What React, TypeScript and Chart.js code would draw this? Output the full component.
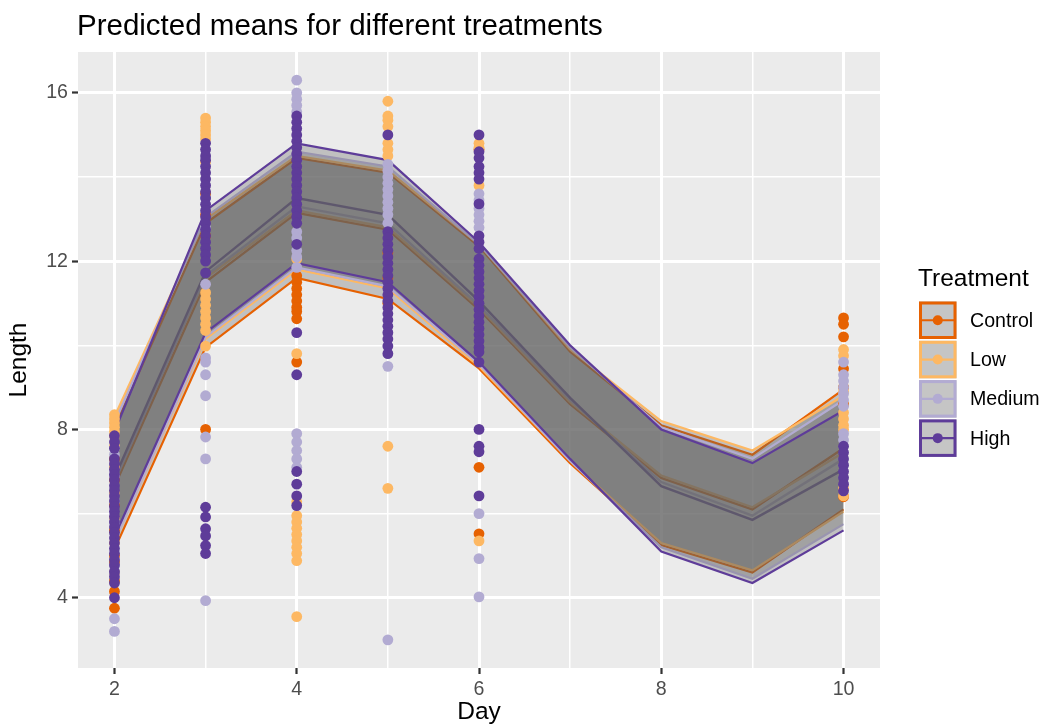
import React, { useEffect, useRef } from "react";
import { Chart, registerables } from "chart.js";

Chart.register(...registerables);

// ---------- data ----------
const days = [2, 3, 4, 5, 6, 7, 8, 9, 10];
const treatments = ["Control", "Low", "Medium", "High"];
const treatmentColors = ["#E66101", "#FDB863", "#B2ABD2", "#5E3C99"];

const controlUpper = [8.05, 12.9, 14.45, 14.1, 12.35, 9.85, 8.1, 7.4, 8.95];
const controlMean = [6.65, 11.5, 13.15, 12.75, 10.85, 8.6, 6.85, 6.1, 7.55];
const controlLower = [5.15, 9.95, 11.6, 11.1, 9.45, 7.2, 5.25, 4.6, 6.1];

const lowUpper = [8.3, 13.0, 14.5, 14.15, 12.4, 9.9, 8.2, 7.5, 8.8];
const lowMean = [6.85, 11.6, 13.2, 12.8, 10.9, 8.65, 6.9, 6.15, 7.45];
const lowLower = [5.35, 10.15, 11.8, 11.35, 9.5, 7.25, 5.3, 4.65, 6.05];

const mediumUpper = [8.15, 13.05, 14.6, 14.25, 12.4, 9.95, 8.05, 7.3, 8.7];
const mediumMean = [6.75, 11.65, 13.3, 12.9, 10.95, 8.7, 6.75, 5.95, 7.3];
const mediumLower = [5.35, 10.2, 11.85, 11.4, 9.55, 7.25, 5.2, 4.45, 5.75];

const highUpper = [7.95, 13.2, 14.8, 14.4, 12.45, 10.0, 8.0, 7.2, 8.45];
const highMean = [6.85, 11.75, 13.5, 13.1, 11.05, 8.75, 6.65, 5.85, 7.05];
const highLower = [5.45, 10.3, 11.95, 11.5, 9.6, 7.3, 5.1, 4.35, 5.6];

// observed lengths, by observation day
const obsDays = [2, 3, 4, 5, 6, 10];
const controlObs = [
  [5.0, 4.85, 4.6, 4.4, 4.15, 3.75, 5.6, 6.2, 6.8, 7.3],
  [8.0, 12.6, 13.1, 13.6],
  [11.65, 11.5, 11.35, 11.2, 11.05, 10.9, 10.8, 10.63, 9.6],
  [11.0, 11.6, 12.2],
  [14.65, 7.1, 5.52],
  [10.65, 10.5, 10.2, 9.44, 9.0, 8.6, 6.4],
];
const lowObs = [
  [8.35, 8.25, 8.15, 8.05, 7.95, 7.85, 7.6, 7.1, 6.5, 5.9, 5.3],
  [15.4, 15.3, 15.2, 15.1, 15.0, 14.9, 14.35, 11.25, 11.1, 10.95, 10.8, 10.65, 10.5, 10.35, 9.98],
  [12.05, 9.8, 6.28, 5.95, 5.8, 5.65, 5.5, 5.35, 5.2, 5.05, 4.88, 3.55],
  [15.8, 15.45, 15.35, 15.2, 14.8, 14.65, 14.5, 7.6, 6.6],
  [14.8, 14.7, 13.8, 5.35],
  [9.9, 9.75, 8.9, 8.4, 8.25, 8.1, 8.0, 6.6, 6.42],
];
const mediumObs = [
  [7.55, 7.4, 6.9, 6.3, 5.8, 4.75, 4.6, 3.5, 3.2],
  [13.5, 12.8, 11.45, 9.7, 9.6, 9.3, 8.8, 7.82, 7.3, 3.93],
  [16.3, 16.0, 15.85, 15.7, 15.55, 12.7, 12.55, 12.25, 12.1, 11.85, 7.9, 7.7, 7.5, 7.3, 7.1],
  [14.3, 14.15, 14.0, 13.85, 13.7, 13.55, 13.4, 13.25, 13.1, 12.9, 9.5, 3.0],
  [13.6, 13.45, 13.25, 13.1, 12.95, 12.8, 6.0, 4.93, 4.02],
  [9.6, 9.3, 9.15, 9.0, 8.85, 8.7, 8.55, 7.9, 7.75],
];
const highObs = [
  [7.85, 7.7, 7.55, 7.3, 7.18, 7.05, 6.93, 6.8, 6.66, 6.55, 6.42, 6.3, 6.17, 6.05, 5.93, 5.8, 5.68, 5.55, 5.42, 5.3, 5.17, 5.05, 4.9, 4.78, 4.62, 4.5, 4.35, 4.0],
  [14.8, 14.65, 14.5, 14.4, 14.25, 14.1, 13.95, 13.8, 13.65, 13.5, 13.35, 13.2, 13.05, 12.9, 12.75, 12.6, 12.45, 12.3, 12.15, 12.0, 11.72, 6.15, 5.92, 5.64, 5.47, 5.24, 5.05],
  [15.45, 15.3, 15.15, 15.0, 14.85, 14.7, 14.55, 14.4, 14.25, 14.1, 13.95, 13.8, 13.65, 13.5, 13.35, 13.2, 13.05, 12.9, 12.4, 10.3, 9.3, 7.0, 6.7, 6.42, 6.19],
  [15.0, 12.7, 12.55, 12.4, 12.25, 12.1, 11.95, 11.8, 11.65, 11.5, 11.35, 11.2, 11.05, 10.9, 10.75, 10.6, 10.45, 10.3, 10.15, 9.98, 9.8],
  [15.0, 14.6, 14.45, 14.25, 14.1, 13.95, 13.36, 12.6, 12.45, 12.3, 12.05, 11.9, 11.75, 11.6, 11.45, 11.3, 11.15, 11.0, 10.85, 10.7, 10.55, 10.4, 10.25, 10.1, 9.95, 9.84, 9.6, 8.0, 7.6, 7.47, 6.42],
  [7.6, 7.45, 7.3, 7.15, 7.0, 6.85, 6.7, 6.54],
];

const xTicks = [2, 3, 4, 5, 6, 7, 8, 9, 10];
const xMajor = [2, 4, 6, 8, 10];
const yTicks = [4, 6, 8, 10, 12, 14, 16];
const yMajor = [4, 8, 12, 16];

const titleText = "Predicted means for different treatments";
const xTitle = "Day";
const yTitle = "Length";
const legendTitle = "Treatment";

// ---------- helpers ----------
const FONT = "'Liberation Sans', Arial, sans-serif";
const uppers = [controlUpper, lowUpper, mediumUpper, highUpper];
const means = [controlMean, lowMean, mediumMean, highMean];
const lowers = [controlLower, lowLower, mediumLower, highLower];
const observations = [controlObs, lowObs, mediumObs, highObs];
const RIBBON_FILL = "rgba(96,96,96,0.31)";

const toXY = (vals: number[]) => days.map((d, i) => ({ x: d, y: vals[i] }));

function buildDatasets() {
  const ds: any[] = [];
  treatments.forEach((t, k) => {
    const pts: { x: number; y: number }[] = [];
    obsDays.forEach((d, i) => observations[k][i].forEach((v) => pts.push({ x: d, y: v })));
    ds.push({
      type: "scatter",
      label: t + " obs",
      data: pts,
      backgroundColor: treatmentColors[k],
      borderWidth: 0,
      pointRadius: 5.4,
      pointBorderWidth: 0,
      order: 3 - k,
    });
  });
  treatments.forEach((t, k) => {
    ds.push({
      type: "line",
      label: t + " upper",
      data: toXY(uppers[k]),
      borderColor: treatmentColors[k],
      borderWidth: 2.2,
      pointRadius: 0,
      tension: 0,
      fill: false,
      order: 10 + 2 * (3 - k),
    });
    ds.push({
      type: "line",
      label: t + " lower",
      data: toXY(lowers[k]),
      borderColor: treatmentColors[k],
      borderWidth: 2.2,
      pointRadius: 0,
      tension: 0,
      fill: "-1",
      backgroundColor: RIBBON_FILL,
      order: 11 + 2 * (3 - k),
    });
  });
  treatments.forEach((t, k) => {
    ds.push({
      type: "line",
      label: t + " mean",
      data: toXY(means[k]),
      borderColor: treatmentColors[k],
      borderWidth: 2.4,
      pointRadius: 0,
      tension: 0,
      fill: false,
      order: 30 + (3 - k),
    });
  });
  return ds;
}

const ggPlugin = {
  id: "ggDecor",
  beforeDraw(chart: any) {
    const { ctx, chartArea } = chart;
    ctx.save();
    ctx.fillStyle = "#FFFFFF";
    ctx.fillRect(0, 0, chart.width, chart.height);
    ctx.fillStyle = "#EBEBEB";
    ctx.fillRect(chartArea.left, chartArea.top, chartArea.right - chartArea.left, chartArea.bottom - chartArea.top);
    ctx.restore();
  },
  afterDraw(chart: any) {
    const { ctx } = chart;
    ctx.save();
    ctx.fillStyle = "#000000";
    ctx.font = `29.5px ${FONT}`;
    ctx.textAlign = "left";
    ctx.textBaseline = "alphabetic";
    ctx.fillText(titleText, 77, 35);
    ctx.font = `24.5px ${FONT}`;
    ctx.fillText(legendTitle, 918, 286);
    const x0 = 919;
    const size = 37.5;
    treatments.forEach((t, k) => {
      const y0 = 301.5 + k * 39.3;
      ctx.fillStyle = "#F2F2F2";
      ctx.fillRect(x0, y0, size, size);
      ctx.fillStyle = RIBBON_FILL;
      ctx.fillRect(x0, y0, size, size);
      ctx.strokeStyle = treatmentColors[k];
      ctx.lineWidth = 3;
      ctx.strokeRect(x0 + 1.5, y0 + 1.5, size - 3, size - 3);
      const cy = y0 + size / 2;
      ctx.lineWidth = 2.2;
      ctx.beginPath();
      ctx.moveTo(x0 + 2, cy);
      ctx.lineTo(x0 + size - 2, cy);
      ctx.stroke();
      ctx.fillStyle = treatmentColors[k];
      ctx.beginPath();
      ctx.arc(x0 + size / 2, cy, 5, 0, Math.PI * 2);
      ctx.fill();
      ctx.fillStyle = "#000000";
      ctx.font = `19.6px ${FONT}`;
      ctx.textBaseline = "middle";
      ctx.fillText(t, 970, cy + 1);
      ctx.textBaseline = "alphabetic";
    });
    ctx.restore();
  },
};

function axisCommon(ticksArr: number[], major: number[]) {
  return {
    type: "linear" as const,
    afterBuildTicks: (s: any) => {
      s.ticks = ticksArr.map((v) => ({ value: v }));
    },
    ticks: {
      autoSkip: false,
      maxRotation: 0,
      minRotation: 0,
      padding: 4,
      color: "#4D4D4D",
      font: { family: FONT, size: 19.6 },
      callback: (v: any) => (major.includes(Number(v)) ? String(v) : ""),
    },
    grid: {
      color: "#FFFFFF",
      lineWidth: (c: any) => (c.tick && major.includes(c.tick.value) ? 3 : 1.5),
      drawTicks: true,
      tickLength: 6,
      tickWidth: 2.2,
      tickColor: (c: any) => (c.tick && major.includes(c.tick.value) ? "#333333" : "rgba(0,0,0,0)"),
    },
    border: { display: false },
  };
}

export default function App() {
  const ref = useRef<HTMLCanvasElement | null>(null);
  useEffect(() => {
    if (!ref.current) return;
    const chart = new Chart(ref.current, {
      type: "scatter",
      data: { datasets: buildDatasets() },
      options: {
        animation: false,
        responsive: false,
        events: [],
        layout: { padding: { top: 52, right: 167, left: 0, bottom: 0 } },
        plugins: {
          legend: { display: false },
          tooltip: { enabled: false },
          title: { display: false },
        },
        scales: {
          x: {
            ...axisCommon(xTicks, xMajor),
            min: 1.6,
            max: 10.4,
            afterFit: (s: any) => {
              s.height = 59;
            },
            title: {
              display: true,
              text: xTitle,
              color: "#000000",
              font: { family: FONT, size: 24.5 },
              padding: { top: 0, bottom: 0 },
            },
          },
          y: {
            ...axisCommon(yTicks, yMajor),
            min: 2.33,
            max: 16.97,
            afterFit: (s: any) => {
              s.width = 78;
            },
            title: {
              display: true,
              text: yTitle,
              color: "#000000",
              font: { family: FONT, size: 24.5 },
              padding: { top: 5, bottom: 0 },
            },
          },
        },
      } as any,
      plugins: [ggPlugin],
    });
    return () => chart.destroy();
  }, []);
  return (
    <div style={{ position: "fixed", left: 0, top: 0, width: 1047, height: 727, background: "#fff" }}>
      <canvas ref={ref} width={1047} height={727} style={{ display: "block" }} />
    </div>
  );
}
